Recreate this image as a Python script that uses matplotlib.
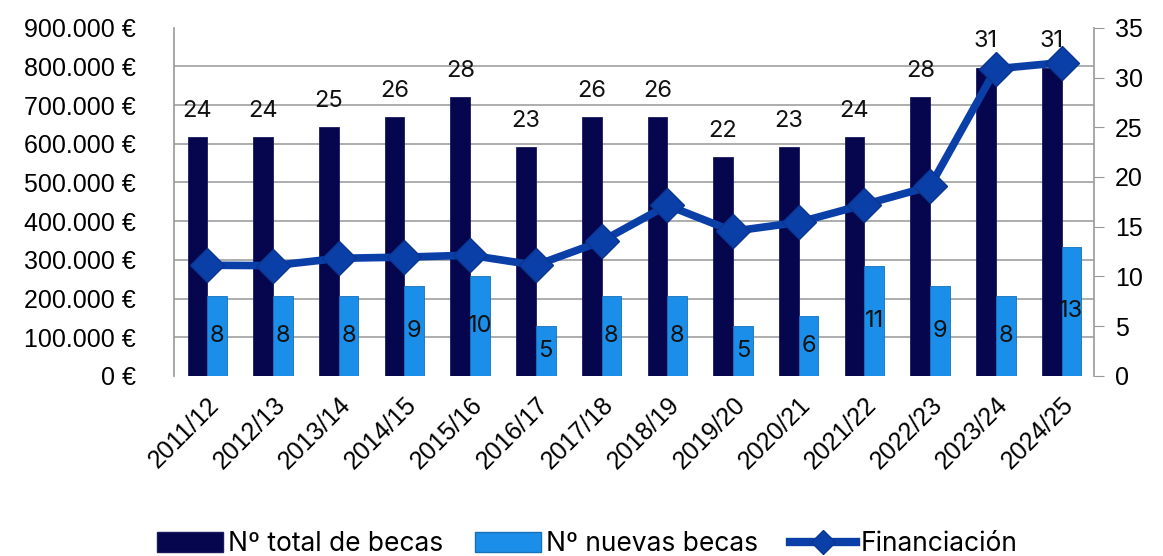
import numpy as np
import matplotlib.pyplot as plt
from matplotlib.patches import Patch
from matplotlib.lines import Line2D
from matplotlib.ticker import FuncFormatter

cursos = ["2011/12", "2012/13", "2013/14", "2014/15", "2015/16", "2016/17", "2017/18",
          "2018/19", "2019/20", "2020/21", "2021/22", "2022/23", "2023/24", "2024/25"]
total_becas = [24, 24, 25, 26, 28, 23, 26, 26, 22, 23, 24, 28, 31, 31]
nuevas_becas = [8, 8, 8, 9, 10, 5, 8, 8, 5, 6, 11, 9, 8, 13]
financiacion = [286000, 285000, 304000, 307000, 312000, 286000, 348000,
                441000, 374000, 397000, 443000, 490000, 794000, 810000]

dark = "#06064f"
light = "#1a8ee8"
line_c = "#0a3fa8"

plt.rcParams["font.family"] = ["Liberation Sans", "DejaVu Sans"]
lab_font = ["Inter", "DejaVu Sans"]

fig, ax = plt.subplots(figsize=(11.63, 5.56), dpi=100)
fig.subplots_adjust(left=0.150, right=0.941, top=0.950, bottom=0.324)

x = np.arange(len(cursos))
w = 0.3
ax.bar(x - w / 2, total_becas, w, color=dark, edgecolor="#1a1a60", linewidth=0.6, zorder=2)
ax.bar(x + w / 2, nuevas_becas, w, color=light, edgecolor="#1570b8", linewidth=0.6, zorder=2)

for xi, v in zip(x, total_becas):
    ax.annotate(str(v), (xi - w / 2, v), xytext=(0, 11), textcoords="offset points",
                ha="center", va="bottom", fontsize=17, family=lab_font, color="#111111")
for xi, v in zip(x, nuevas_becas):
    ax.text(xi + w / 2, v / 2, str(v), ha="center", va="center", fontsize=17,
            family=lab_font, color="#111111", zorder=3)

ax2 = ax.twinx()
ax2.yaxis.tick_left()
ax.yaxis.tick_right()

ax.set_xlim(-0.5, len(cursos) - 0.5)
ax.set_ylim(0, 35)
ax.set_yticks(range(0, 36, 5))
ax.set_yticks(np.arange(10) * 35 / 9, minor=True)
ax.tick_params(axis="y", which="minor", length=0, labelright=False, labelleft=False)
ax.tick_params(axis="y", which="major", labelsize=18, length=7, color="#999999", pad=8,
               labelright=True, labelleft=False, right=True, left=False)
ax.grid(axis="y", which="minor", color="#a0a0a0", linewidth=1.2, zorder=0)
ax.set_axisbelow(True)
ax.set_xticks(x)
ax.set_xticklabels(cursos, rotation=45, ha="right", rotation_mode="anchor", fontsize=18)
ax.tick_params(axis="x", length=0, pad=12)
for s in ["top", "bottom"]:
    ax.spines[s].set_visible(False)
for s in ["left", "right"]:
    ax.spines[s].set_color("#999999")
    ax.spines[s].set_linewidth(1.2)

ax2.plot(x, financiacion, color=line_c, linewidth=5.5, marker="D", markersize=17,
         markerfacecolor=line_c, markeredgecolor="#0a3590", markeredgewidth=1, zorder=4)
ax2.set_ylim(0, 900000)
ax2.set_yticks(range(0, 900001, 100000))
ax2.yaxis.set_major_formatter(FuncFormatter(lambda v, p: f"{int(v):,}".replace(",", ".") + " €"))
ax2.tick_params(axis="y", labelsize=18, length=0, pad=28, labelleft=True, labelright=False)
for s in ax2.spines.values():
    s.set_visible(False)

handles = [Patch(facecolor=dark, edgecolor="#1a1a60"),
           Patch(facecolor=light, edgecolor="#1570b8"),
           Line2D([], [], color=line_c, linewidth=6, marker="D", markersize=12,
                  markerfacecolor=line_c, markeredgecolor="#0a3590")]
fig.legend(handles, ["Nº total de becas", "Nº nuevas becas", "Financiación"],
           loc="lower center", bbox_to_anchor=(0.505, -0.045), ncol=3, frameon=False,
           prop={"family": lab_font, "size": 19}, handlelength=2.5, handleheight=0.8,
           handletextpad=0.2, columnspacing=1.2)

fig.savefig("out.png", dpi=100)
